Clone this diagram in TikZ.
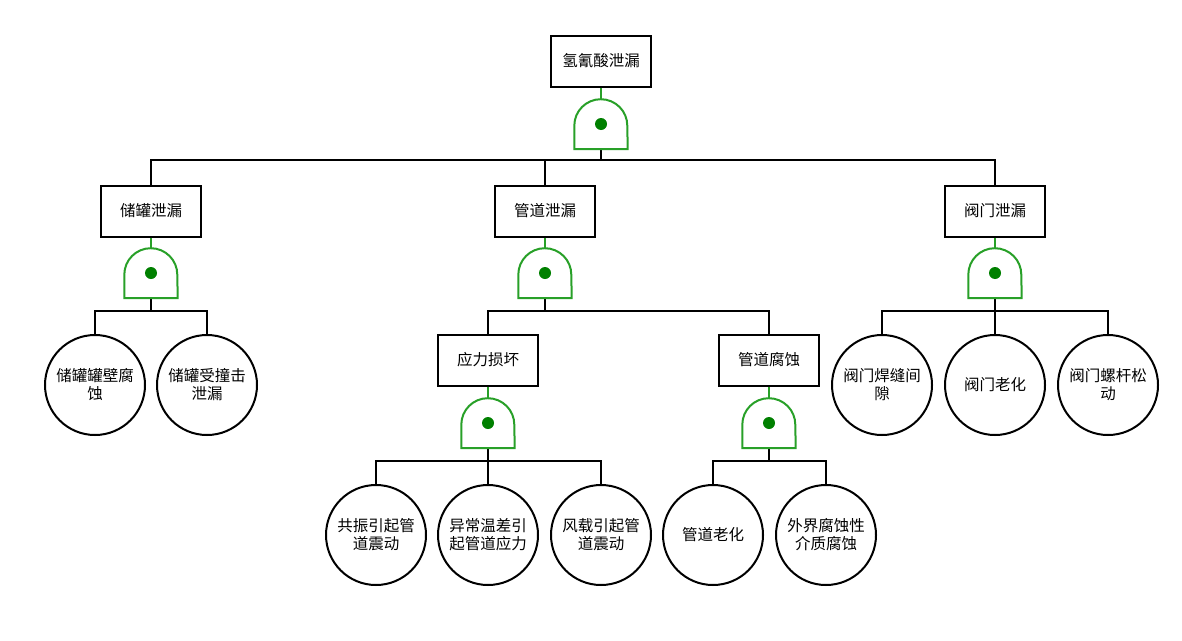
\documentclass[tikz,border=0pt]{standalone}
\usepackage{fontspec}
\setmainfont{Noto Sans CJK SC}
\usepackage{tikz}
\usetikzlibrary{shapes.geometric, arrows}
\definecolor{gategreen}{RGB}{40,160,40}
\definecolor{dotgreen}{RGB}{0,128,0}
\tikzstyle{event} = [rectangle, minimum width=100pt, minimum height=51pt, text centered, draw=black, line width=2pt, fill=white]
\tikzstyle{basic} = [circle, minimum size=100pt, inner sep=0pt, align=center, draw=black, line width=2pt, fill=white]
\tikzstyle{gatebox} = [rectangle, minimum width=53pt, minimum height=50pt, inner sep=0pt]
\tikzstyle{gateline} = [draw=gategreen, line width=2pt, fill=white]
\tikzstyle{link} = [line width=2pt, draw=black]
\tikzstyle{uplink} = [line width=2pt, draw=gategreen]
\newcommand{\andgate}[1]{%
  \draw [gateline] (#1.south west) -- ++(0,23.5pt) arc[start angle=180, end angle=0, radius=26.5pt] -- (#1.south east) -- cycle;
  \fill [dotgreen] (#1.center) circle (6pt);}

\begin{document}
\begin{tikzpicture}[x=1pt, y=-1pt, font=\fontsize{15.5}{18}\selectfont]
      \useasboundingbox (0,0) rectangle (1182,640);
      % top event
      \node (top) [event] at (601,61) {氢氰酸泄漏};
      \node (g0) [gatebox] at (601,124) {};
      \coordinate (j0) at (601,160);
      \draw [uplink] (top) -- (g0);
      \draw [link] (g0) -- (j0);
      % first level
      \node (tank) [event] at (151,211) {储罐泄漏};
      \node (pipe) [event] at (545,211) {管道泄漏};
      \node (valve) [event] at (995,211) {阀门泄漏};
      \draw [link] (j0) -| (tank);
      \draw [link] (j0) -| (pipe);
      \draw [link] (j0) -| (valve);
      \andgate{g0}
      % tank branch
      \node (g1) [gatebox] at (151,273) {};
      \coordinate (j1) at (151,311);
      \draw [uplink] (tank) -- (g1);
      \draw [link] (g1) -- (j1);
      \node (wall) [basic] at (95,385) {储罐罐壁腐\\蚀};
      \node (hit) [basic] at (207,385) {储罐受撞击\\泄漏};
      \draw [link] (j1) -| (wall);
      \draw [link] (j1) -| (hit);
      \andgate{g1}
      % pipe branch
      \node (g2) [gatebox] at (545,273) {};
      \coordinate (j2) at (545,311);
      \draw [uplink] (pipe) -- (g2);
      \draw [link] (g2) -- (j2);
      \node (stress) [event] at (488,360) {应力损坏};
      \node (corr) [event] at (769,360) {管道腐蚀};
      \draw [link] (j2) -| (stress);
      \draw [link] (j2) -| (corr);
      \andgate{g2}
      % stress damage
      \node (g4) [gatebox] at (488,423) {};
      \coordinate (j4) at (488,461);
      \draw [uplink] (stress) -- (g4);
      \draw [link] (g4) -- (j4);
      \node (reson) [basic] at (376,535) {共振引起管\\道震动};
      \node (temp) [basic] at (488,535) {异常温差引\\起管道应力};
      \node (wind) [basic] at (601,535) {风载引起管\\道震动};
      \draw [link] (j4) -| (reson);
      \draw [link] (j4) -- (temp);
      \draw [link] (j4) -| (wind);
      \andgate{g4}
      % pipe corrosion
      \node (g5) [gatebox] at (769,423) {};
      \coordinate (j5) at (769,461);
      \draw [uplink] (corr) -- (g5);
      \draw [link] (g5) -- (j5);
      \node (aging) [basic] at (713,535) {管道老化};
      \node (medium) [basic] at (826,535) {外界腐蚀性\\介质腐蚀};
      \draw [link] (j5) -| (aging);
      \draw [link] (j5) -| (medium);
      \andgate{g5}
      % valve branch
      \node (g3) [gatebox] at (995,273) {};
      \coordinate (j3) at (995,311);
      \draw [uplink] (valve) -- (g3);
      \draw [link] (g3) -- (j3);
      \node (weld) [basic] at (882,385) {阀门焊缝间\\隙};
      \node (vaging) [basic] at (995,385) {阀门老化};
      \node (screw) [basic] at (1108,385) {阀门螺杆松\\动};
      \draw [link] (j3) -| (weld);
      \draw [link] (j3) -- (vaging);
      \draw [link] (j3) -| (screw);
      \andgate{g3}
    \end{tikzpicture}
\end{document}
